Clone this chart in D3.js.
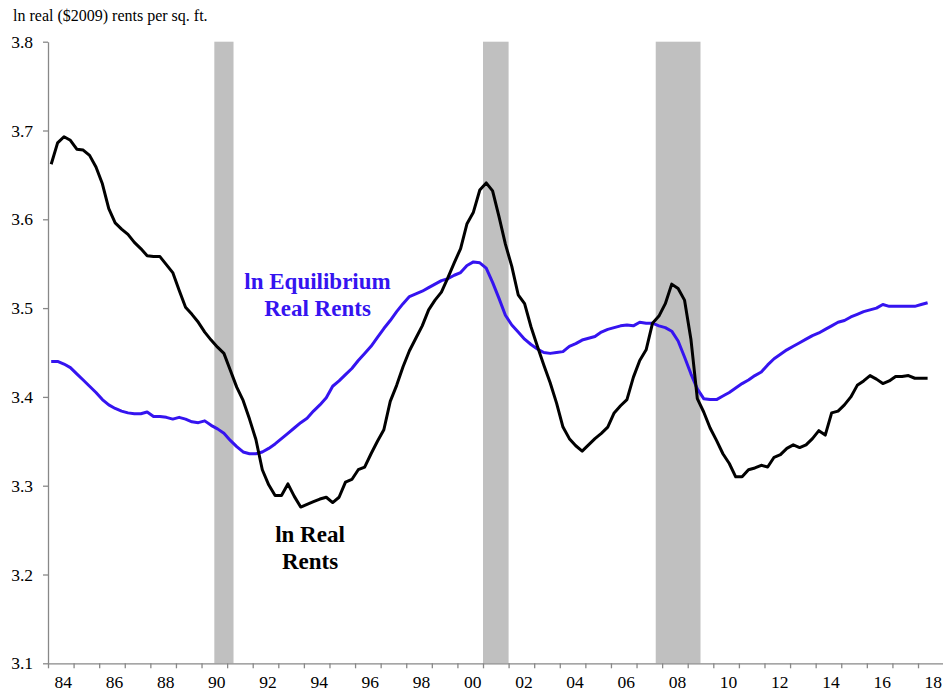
<!DOCTYPE html>
<html>
<head>
<meta charset="utf-8">
<script src="https://cdn.jsdelivr.net/npm/d3@7"></script>
<style>
  html, body { margin: 0; padding: 0; background: #fff; }
  svg { display: block; }
  text { font-family: "Liberation Serif", "Times New Roman", serif; }
</style>
</head>
<body>
<svg id="chart" width="943" height="692"></svg>
<script>
// ---- Data (quarterly, 1984Q1 .. 2018Q2) ----
const startYear = 1984;
const realRents = [
  3.662, 3.686, 3.693, 3.689, 3.679, 3.678, 3.672, 3.659,
  3.640, 3.612, 3.596, 3.589, 3.583, 3.574, 3.567, 3.559,
  3.558, 3.558, 3.549, 3.540, 3.520, 3.501, 3.493, 3.484,
  3.473, 3.464, 3.456, 3.449, 3.430, 3.411, 3.396, 3.375,
  3.352, 3.318, 3.301, 3.289, 3.289, 3.302, 3.288, 3.276,
  3.279, 3.282, 3.285, 3.287, 3.281, 3.287, 3.304, 3.307,
  3.318, 3.321, 3.336, 3.350, 3.363, 3.395, 3.413, 3.434,
  3.452, 3.466, 3.480, 3.498, 3.509, 3.518, 3.534, 3.551,
  3.567, 3.595, 3.608, 3.633, 3.641, 3.632, 3.603, 3.572,
  3.547, 3.515, 3.505, 3.479, 3.457, 3.436, 3.416, 3.393,
  3.366, 3.353, 3.345, 3.339, 3.346, 3.353, 3.359, 3.366,
  3.382, 3.390, 3.397, 3.422, 3.441, 3.453, 3.483, 3.491,
  3.505, 3.527, 3.522, 3.509, 3.465, 3.398, 3.383, 3.365,
  3.351, 3.336, 3.325, 3.310, 3.310, 3.318, 3.320, 3.323,
  3.321, 3.332, 3.335, 3.342, 3.346, 3.343, 3.346, 3.353,
  3.362, 3.357, 3.382, 3.384, 3.391, 3.400, 3.413, 3.418,
  3.424, 3.420, 3.415, 3.418, 3.423, 3.423, 3.424, 3.421,
  3.421, 3.421
];
const equilibriumRents = [
  3.440, 3.440, 3.437, 3.433, 3.426, 3.419, 3.412, 3.405,
  3.397, 3.391, 3.387, 3.384, 3.382, 3.381, 3.381, 3.383,
  3.378, 3.378, 3.377, 3.375, 3.377, 3.375, 3.372, 3.371,
  3.373, 3.368, 3.364, 3.359, 3.351, 3.344, 3.338, 3.336,
  3.336, 3.338, 3.342, 3.347, 3.353, 3.359, 3.365, 3.371,
  3.376, 3.384, 3.391, 3.399, 3.412, 3.418, 3.425, 3.432,
  3.441, 3.449, 3.457, 3.467, 3.477, 3.486, 3.496, 3.505,
  3.513, 3.516, 3.519, 3.523, 3.527, 3.531, 3.533, 3.537,
  3.540, 3.548, 3.552, 3.551, 3.545, 3.529, 3.511, 3.492,
  3.481, 3.473, 3.465, 3.459, 3.454, 3.450, 3.449, 3.450,
  3.451, 3.457, 3.460, 3.464, 3.466, 3.468, 3.473, 3.476,
  3.478, 3.480, 3.481, 3.480, 3.484, 3.483, 3.483, 3.480,
  3.478, 3.474, 3.463, 3.445, 3.426, 3.409, 3.398, 3.397,
  3.397, 3.401, 3.405, 3.410, 3.415, 3.419, 3.424, 3.428,
  3.436, 3.443, 3.448, 3.453, 3.457, 3.461, 3.465, 3.469,
  3.472, 3.476, 3.480, 3.484, 3.486, 3.490, 3.493, 3.496,
  3.498, 3.500, 3.504, 3.502, 3.502, 3.502, 3.502, 3.502,
  3.504, 3.506
];
const recessions = [[1990.5, 1991.25], [2001.0, 2002.0], [2007.75, 2009.5]];
const yTicks = [3.1, 3.2, 3.3, 3.4, 3.5, 3.6, 3.7, 3.8];
const xLabelYears = d3.range(1984, 2019, 2);
const yearTicks = d3.range(1984, 2020);
const title = "ln real ($2009) rents per sq. ft.";

// quarter positions (middle of each quarter)
const quarters = realRents.map((_, i) => startYear + Math.floor(i / 4) + (i % 4) / 4 + 0.125);

// ---- Layout ----
const svg = d3.select("#chart");
const x = d3.scaleLinear().domain([1984, 2019]).range([48, 943.6]);
const y = d3.scaleLinear().domain([3.1, 3.8]).range([663.3, 41.7]);
const axisColor = "#888888";

// recession bars
svg.append("g").selectAll("rect").data(recessions).join("rect")
  .attr("x", d => x(d[0]))
  .attr("width", d => x(d[1]) - x(d[0]))
  .attr("y", y(3.8))
  .attr("height", y(3.1) - y(3.8))
  .attr("fill", "#c0c0c0");

// y axis
const yAxis = svg.append("g").attr("transform", `translate(${x(1984)},0)`)
  .call(d3.axisLeft(y).tickValues(yTicks).tickFormat(d3.format(".1f")).tickSize(5).tickSizeOuter(0).tickPadding(10));
yAxis.selectAll("text").attr("font-size", 17.5).attr("fill", "#000")
  .style("font-family", '"Liberation Serif", "Times New Roman", serif');

// x axis tick marks (each year)
const xAxis = svg.append("g").attr("transform", `translate(0,${y(3.1)})`)
  .call(d3.axisBottom(x).tickValues(yearTicks).tickFormat("").tickSize(5).tickSizeOuter(0));
// x labels (every two years, centred in the year)
const xLab = svg.append("g").attr("transform", `translate(0,${y(3.1)})`)
  .call(d3.axisBottom(x).tickValues(xLabelYears.map(v => v + 0.5))
    .tickFormat(d => String(Math.floor(d) % 100).padStart(2, "0")).tickSize(0).tickPadding(12.5));
xLab.select(".domain").remove();
xLab.selectAll("text").attr("font-size", 17.5).attr("fill", "#000").attr("dx", 2)
  .style("font-family", '"Liberation Serif", "Times New Roman", serif');

[yAxis, xAxis].forEach(g => {
  g.select(".domain").attr("stroke", axisColor).attr("stroke-width", 1.3);
  g.selectAll(".tick line").attr("stroke", axisColor).attr("stroke-width", 1.3);
});

// lines
const line = vals => d3.line().x((d, i) => x(quarters[i])).y(d => y(d))(vals);
svg.append("path").attr("d", line(equilibriumRents))
  .attr("fill", "none").attr("stroke", "#3514f0").attr("stroke-width", 3).attr("stroke-linejoin", "round");
svg.append("path").attr("d", line(realRents))
  .attr("fill", "none").attr("stroke", "#000").attr("stroke-width", 3).attr("stroke-linejoin", "round");

// title
svg.append("text").attr("x", 13).attr("y", 20.5).attr("font-size", 16).attr("fill", "#000").text(title);

// annotations
const ann = [
  { lines: ["ln Equilibrium", "Real Rents"], cx: 317.5, y0: 289.3, color: "#3514f0" },
  { lines: ["ln Real", "Rents"], cx: 310, y0: 541.7, color: "#000" }
];
ann.forEach(a => {
  const t = svg.append("text").attr("text-anchor", "middle").attr("font-size", 23)
    .attr("font-weight", "bold").attr("fill", a.color);
  a.lines.forEach((s, i) => t.append("tspan").attr("x", a.cx).attr("y", a.y0 + i * 27).text(s));
});
</script>
</body>
</html>
